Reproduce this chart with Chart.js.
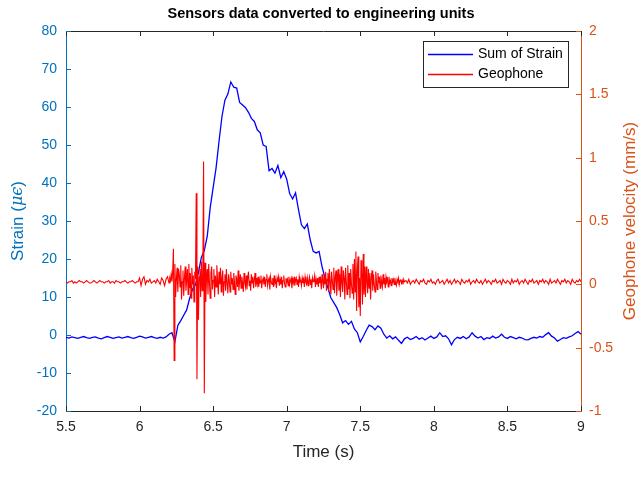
<!DOCTYPE html>
<html>
<head>
<meta charset="utf-8">
<script src="https://cdn.jsdelivr.net/npm/chart.js@4.4.1/dist/chart.umd.min.js"></script>
<style>
html,body{margin:0;padding:0;background:#ffffff;}
#wrap{width:642px;height:494px;}
</style>
</head>
<body>
<div id="wrap"><canvas id="c" width="642" height="494"></canvas></div>
<script>
// ---------- data ----------
const chartTitle = 'Sensors data converted to engineering units';
const xLabel = 'Time (s)';
const rightLabel = 'Geophone velocity (mm/s)';
const seriesNames = ['Sum of Strain', 'Geophone'];
const xTicks = [5.5, 6, 6.5, 7, 7.5, 8, 8.5, 9];
const strainTicks = [-20, -10, 0, 10, 20, 30, 40, 50, 60, 70, 80];
const geoTicks = [-1, -0.5, 0, 0.5, 1, 1.5, 2];

// Strain samples (micro-strain), one every 0.02 s from 5.5 s
const strainStart = 5.5, strainStep = 0.02;
const strainValues = [
  -0.6,-0.8,-0.5,-0.7,-0.9,-0.6,-0.4,-0.7,-0.9,-0.6,
  -0.5,-0.8,-1.0,-0.7,-0.4,-0.6,-0.9,-0.7,-0.5,-0.8,
  -0.6,-0.4,-0.7,-0.9,-0.6,-0.3,-0.5,-0.8,-0.6,-0.4,
  -0.7,-0.9,-0.6,-0.8,-0.5,0.2,0.6,-1.8,2.5,3.8,
  5.2,6.6,9.6,12.0,13.2,16.5,20.4,22.2,26.0,33.5,
  38.8,44.0,51.0,57.5,61.8,63.4,66.6,65.2,65.0,61.2,
  60.5,59.8,58.6,57.0,56.2,54.0,53.2,50.0,49.6,43.2,
  43.8,42.6,44.6,41.4,43.0,41.0,37.2,35.8,37.4,33.0,
  29.0,28.0,29.2,25.0,22.0,21.6,22.0,18.0,15.0,12.4,
  9.8,8.5,7.2,5.4,3.2,3.8,2.8,3.6,1.6,0.6,
  -1.8,-0.4,1.2,2.6,2.2,1.4,2.4,1.8,0.2,-0.8,
  -0.2,-1.0,-0.5,-1.4,-2.2,-1.0,-0.6,-1.2,-0.9,-0.4,
  -1.1,-0.7,-1.3,-0.8,-0.3,-0.9,-0.5,0.6,-0.4,-0.2,
  -1.0,-2.6,-1.2,-0.6,-0.9,-0.4,-1.0,-0.5,0.6,-0.3,
  -0.8,-0.4,-1.2,-0.7,-0.9,-0.3,-0.8,-0.5,0.2,-0.6,
  -0.9,-0.4,-0.7,-1.0,-0.6,-0.8,-1.2,-1.3,-0.9,-0.6,
  -0.8,-0.4,-0.6,0.1,0.6,-0.3,-0.8,-1.6,-1.2,-0.7,
  -0.9,-0.5,-0.2,0.4,0.9,0.2
];

// Geophone (mm/s): quiet part before the event, one sample every 0.01 s from 5.50 s
const geoQuietStart = 5.5, geoQuietStep = 0.01;
const geoQuietValues = [
  0.02,0.01,0.02,0.02,0.03,0.01,0.02,0.01,0.02,0.03,
  0.02,0.02,0.01,0.02,0.03,0.02,0.01,0.01,0.02,0.03,
  0.02,0.01,0.02,0.03,0.02,0.02,0.01,0.02,0.02,0.03,
  0.01,0.02,0.02,0.01,0.03,0.02,0.02,0.01,0.02,0.02,
  0.03,0.02,0.01,0.02,0.02,0.03,0.02,0.01,0.02,0.02,
  0.05,-0.01,0.04,0.06,0.00,0.03,0.02,0.04,0.01,0.02,
  0.03,0.01,0.04,0.02,0.00,0.05,0.03,-0.01,0.04,0.06
];
// Geophone: active part, one sample every 0.005 s from 6.20 s
const geoEventStart = 6.2, geoEventStep = 0.005;
const geoEventValues = [
  0.01,0.05,0.03,0.08,0.02,0.10,
  0.28,-0.60,
  0.16,-0.10,0.04,0.13,-0.06,0.12,0.08,-0.02,0.15,-0.12,
  0.02,0.11,-0.09,0.05,0.14,-0.05,0.03,0.12,-0.08,0.16,
  -0.03,0.09,-0.11,0.13,0.00,0.07,-0.14,0.10,0.04,
  0.72,-0.75,
  0.14,-0.28,0.06,0.12,-0.10,0.18,-0.05,0.09,
  0.97,-0.86,
  0.17,-0.14,0.05,0.12,-0.08,0.16,0.01,-0.11,0.09,0.14,
  -0.04,0.03,0.12,-0.10,0.07,-0.02,0.15,0.04,-0.08,0.10,
  0.00,0.13,-0.06,0.05,0.11,-0.09,0.02,0.08,-0.05,0.12,
  0.01,-0.07,
  0.08,0.03,-0.06,0.10,0.00,0.05,-0.04,0.09,0.02,-0.08,
  0.07,0.04,-0.02,0.11,-0.05,0.03,0.08,-0.03,0.06,0.01,
  -0.06,0.09,0.02,-0.02,0.07,-0.04,0.05,0.10,-0.01,0.03,
  -0.05,0.08,0.01,0.06,-0.03,0.04,0.09,-0.02,0.05,0.00,
  0.06,-0.02,0.04,0.01,0.07,-0.03,0.03,0.05,0.00,0.06,
  -0.02,0.04,0.08,-0.01,0.03,0.05,-0.04,0.06,0.02,0.00,
  0.05,-0.02,0.07,0.01,0.03,-0.03,0.05,0.02,0.06,-0.01,
  0.04,0.00,0.06,-0.03,0.03,0.07,0.01,-0.02,0.05,0.02,
  0.04,-0.01,0.06,0.00,0.03,0.05,-0.03,0.04,0.01,0.06,
  -0.01,0.03,0.05,0.00,0.04,-0.02,0.06,0.02,0.03,-0.01,
  0.05,0.01,0.04,-0.02,0.06,0.02,0.00,0.05,-0.01,0.03,
  0.06,0.00,0.04,-0.03,0.05,0.02,0.03,0.07,-0.02,0.04,
  0.00,0.05,-0.02,0.06,0.01,0.04,-0.04,0.08,0.02,-0.03,
  0.07,0.00,0.10,-0.05,0.04,0.09,-0.06,0.12,0.02,-0.08,
  0.10,0.03,-0.04,0.13,-0.07,0.06,0.11,-0.09,0.04,0.12,
  -0.05,0.08,-0.10,0.14,0.01,-0.06,0.11,0.05,-0.12,0.13,
  0.02,-0.08,0.15,-0.04,0.09,-0.11,0.12,0.00,-0.07,0.16,
  -0.12,0.20,-0.06,0.26,-0.21,0.12,0.22,-0.18,0.05,-0.25,0.19,0.10,-0.16,0.24,-0.08,0.14,
  -0.10,0.14,0.02,-0.07,0.12,-0.03,0.09,-0.12,0.06,0.11,
  -0.05,0.08,0.00,-0.06,0.10,0.03,-0.04,0.09,0.01,0.06,
  -0.03,0.07,0.02,-0.02,0.08,0.00,0.05,-0.03,0.06,0.02,
  0.04,-0.02,0.06,0.01,0.03,-0.01,0.05,0.02,0.04,0.00,
  0.05,0.01,-0.01,0.04,0.02,0.05,0.00,0.03,0.04,0.01,
  0.03,0.00,0.04
];
// Geophone: quiet tail, one sample every 0.01 s from 7.80 s
const geoTailStart = 7.8, geoTailStep = 0.01;
const geoTailValues = [
  0.02,
  0.03,0.01,0.04,0.00,0.02,0.03,0.01,0.04,0.02,0.00,
  0.03,0.02,0.04,0.01,0.00,0.03,0.02,0.04,0.01,0.02,
  0.00,0.03,0.04,0.01,0.02,0.03,0.00,0.02,0.04,0.01,
  0.03,0.00,0.02,0.04,0.01,0.03,0.02,0.00,0.04,0.02,
  0.01,0.03,0.02,0.04,0.00,0.02,0.03,0.01,0.04,0.02,
  0.01,0.03,0.00,0.02,0.04,0.01,0.03,0.02,0.00,0.03,
  0.02,0.04,0.01,0.02,0.03,0.00,0.04,0.02,0.01,0.03,
  0.02,0.00,0.04,0.01,0.03,0.02,0.04,0.00,0.02,0.03,
  0.01,0.04,0.02,0.00,0.03,0.02,0.04,0.01,0.02,0.03,
  0.00,0.03,0.02,0.04,0.01,0.03,0.02,0.00,0.04,0.01,
  0.02,0.03,0.01,0.04,0.02,0.00,0.03,0.02,0.04,0.01,
  0.03,0.02,0.00,0.04,0.02,0.01,0.03,0.02,0.04,0.02
];

// ---------- styling ----------
const BLUE_AX = '#0072BD', ORANGE_AX = '#D95319', DARK = '#262626';
const SANS = '"Liberation Sans", Arial, Helvetica, sans-serif';

const toPoints = (start, step, vals) => vals.map((v, i) => ({x: start + i * step, y: v}));
const strainData = toPoints(strainStart, strainStep, strainValues);
const geoData = [].concat(
  toPoints(geoQuietStart, geoQuietStep, geoQuietValues),
  toPoints(geoEventStart, geoEventStep, geoEventValues),
  toPoints(geoTailStart, geoTailStep, geoTailValues)
);

const fmt = v => String(v);

const decorPlugin = {
  id: 'decor',
  afterDraw(chart) {
    const ctx = chart.ctx, a = chart.chartArea;
    const xs = chart.scales.x, yl = chart.scales.y, yr = chart.scales.y1;
    const TL = 5;
    ctx.save();
    ctx.lineWidth = 1;
    ctx.strokeStyle = DARK;
    ctx.beginPath();
    ctx.moveTo(a.left, Math.round(a.top) + 0.5);
    ctx.lineTo(a.right, Math.round(a.top) + 0.5);
    ctx.stroke();
    ctx.beginPath();
    xTicks.forEach(v => {
      const px = Math.round(xs.getPixelForValue(v)) + 0.5;
      ctx.moveTo(px, a.bottom); ctx.lineTo(px, a.bottom - TL);
      ctx.moveTo(px, a.top); ctx.lineTo(px, a.top + TL);
    });
    ctx.stroke();
    ctx.strokeStyle = BLUE_AX;
    ctx.beginPath();
    strainTicks.forEach(v => {
      const py = Math.round(yl.getPixelForValue(v)) + 0.5;
      ctx.moveTo(a.left, py); ctx.lineTo(a.left + TL, py);
    });
    ctx.stroke();
    ctx.strokeStyle = ORANGE_AX;
    ctx.beginPath();
    geoTicks.forEach(v => {
      const py = Math.round(yr.getPixelForValue(v)) + 0.5;
      ctx.moveTo(a.right, py); ctx.lineTo(a.right - TL, py);
    });
    ctx.stroke();

    // left y label with italic symbols
    const cy = (a.top + a.bottom) / 2;
    const parts = [
      {t: 'Strain (', f: '17px ' + SANS},
      {t: 'μϵ', f: 'italic 16px "DejaVu Serif", serif'},
      {t: ')', f: '17px ' + SANS}
    ];
    let total = 0;
    parts.forEach(p => { ctx.font = p.f; p.w = ctx.measureText(p.t).width; total += p.w; });
    ctx.save();
    ctx.translate(18, cy);
    ctx.rotate(-Math.PI / 2);
    ctx.fillStyle = BLUE_AX;
    ctx.textBaseline = 'middle';
    ctx.textAlign = 'left';
    let xx = -total / 2;
    parts.forEach(p => { ctx.font = p.f; ctx.fillText(p.t, xx, 0); xx += p.w; });
    ctx.restore();

    // right y label (reads bottom to top)
    ctx.save();
    ctx.translate(630, cy);
    ctx.rotate(-Math.PI / 2);
    ctx.fillStyle = ORANGE_AX;
    ctx.font = '17px ' + SANS;
    ctx.textBaseline = 'middle';
    ctx.textAlign = 'center';
    ctx.fillText(rightLabel, 0, 0);
    ctx.restore();

    // legend box
    const bx = 423.5, by = 41.5, bw = 145, bh = 46;
    ctx.fillStyle = '#ffffff';
    ctx.fillRect(bx, by, bw, bh);
    ctx.strokeStyle = DARK;
    ctx.lineWidth = 1;
    ctx.strokeRect(bx, by, bw, bh);
    const rows = [{c: '#0000FF', y: 54.5}, {c: '#FF0000', y: 74.5}];
    ctx.font = '14px ' + SANS;
    ctx.textBaseline = 'middle';
    ctx.textAlign = 'left';
    rows.forEach((r, i) => {
      ctx.strokeStyle = r.c;
      ctx.lineWidth = 1.3;
      ctx.beginPath();
      ctx.moveTo(428, r.y); ctx.lineTo(473, r.y);
      ctx.stroke();
      ctx.fillStyle = '#000000';
      ctx.fillText(seriesNames[i], 478, r.y);
    });
    ctx.restore();
  }
};

new Chart(document.getElementById('c'), {
  type: 'line',
  data: {
    datasets: [
      {label: seriesNames[0], data: strainData, yAxisID: 'y', borderColor: '#0000FF', borderWidth: 1.3,
       pointRadius: 0, tension: 0, fill: false, order: 2},
      {label: seriesNames[1], data: geoData, yAxisID: 'y1', borderColor: '#FF0000', borderWidth: 1.1,
       pointRadius: 0, tension: 0, fill: false, order: 1}
    ]
  },
  options: {
    responsive: false,
    animation: false,
    devicePixelRatio: 1,
    layout: {padding: 0},
    plugins: {
      legend: {display: false},
      tooltip: {enabled: false},
      title: {
        display: true, text: chartTitle, color: '#000000',
        font: {family: SANS, size: 14.5, weight: 'bold', lineHeight: 1.2},
        padding: {top: 5, bottom: 8.6}
      }
    },
    scales: {
      x: {
        type: 'linear', position: 'bottom', min: 5.5, max: 9,
        afterBuildTicks: s => { s.ticks = xTicks.map(v => ({value: v})); },
        afterFit: s => { s.height = 83; },
        grid: {display: false, drawTicks: false},
        border: {display: true, color: DARK, width: 1},
        ticks: {color: DARK, font: {family: SANS, size: 14}, padding: 8, maxRotation: 0, autoSkip: false, callback: fmt},
        title: {display: true, text: xLabel, color: DARK, font: {family: SANS, size: 17, lineHeight: 1.2},
                padding: {top: 0, bottom: 31.8}}
      },
      y: {
        type: 'linear', position: 'left', min: -20, max: 80,
        afterBuildTicks: s => { s.ticks = strainTicks.map(v => ({value: v})); },
        afterFit: s => { s.width = 66; },
        grid: {display: false, drawTicks: false},
        border: {display: true, color: BLUE_AX, width: 1},
        ticks: {color: BLUE_AX, font: {family: SANS, size: 14}, padding: 9, callback: fmt}
      },
      y1: {
        type: 'linear', position: 'right', min: -1, max: 2,
        afterBuildTicks: s => { s.ticks = geoTicks.map(v => ({value: v})); },
        afterFit: s => { s.width = 61; },
        grid: {display: false, drawTicks: false},
        border: {display: true, color: ORANGE_AX, width: 1},
        ticks: {color: ORANGE_AX, font: {family: SANS, size: 14}, padding: 8, callback: fmt}
      }
    }
  },
  plugins: [decorPlugin]
});
</script>
</body>
</html>
